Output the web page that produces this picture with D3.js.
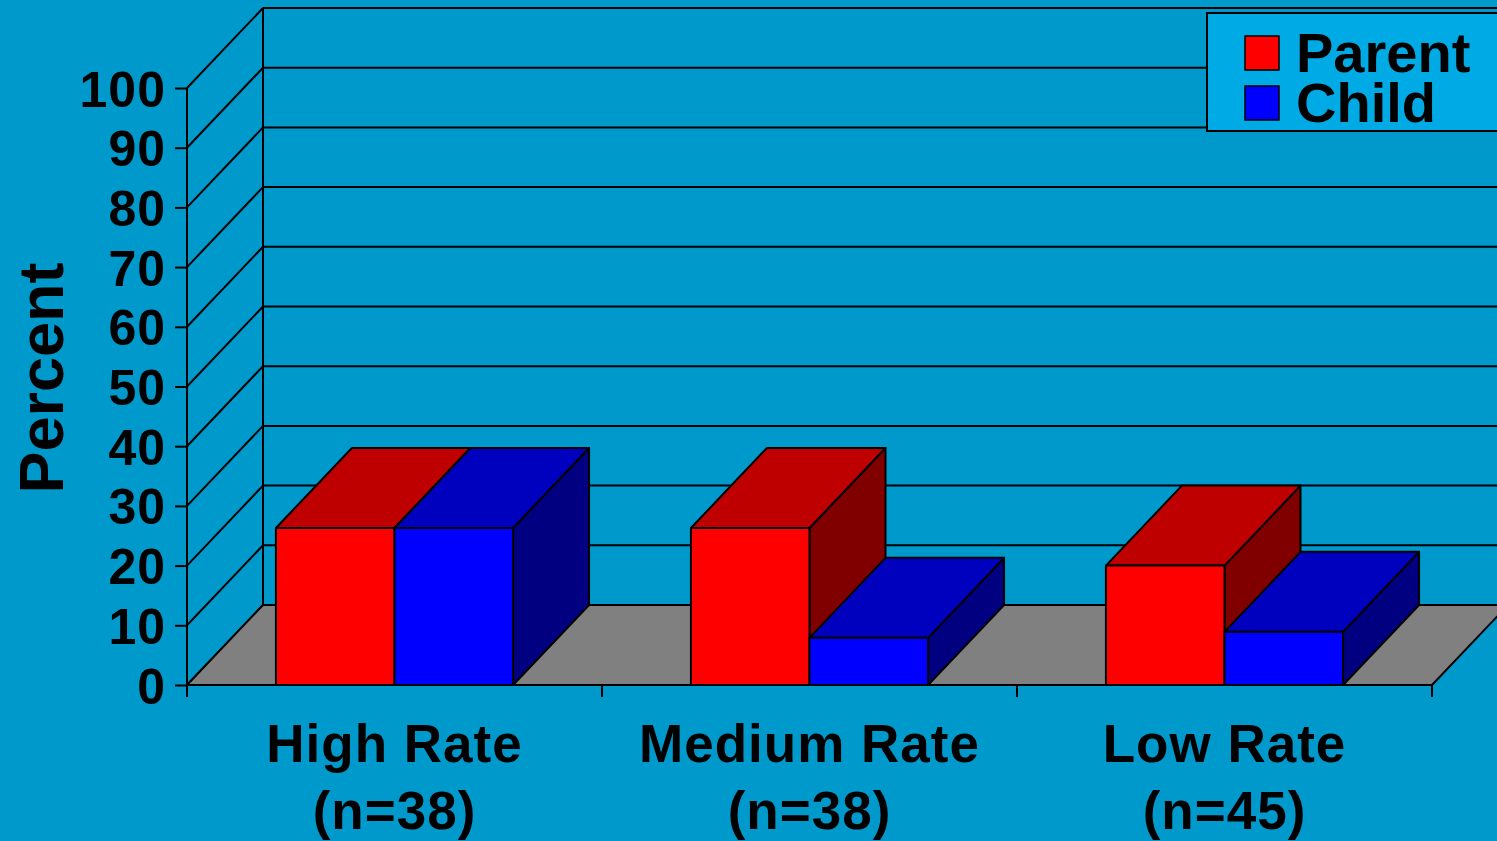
<!DOCTYPE html>
<html>
<head>
<meta charset="utf-8">
<script src="https://cdn.jsdelivr.net/npm/d3@7"></script>
<style>
  html, body { margin: 0; padding: 0; background: #0099cc; overflow: hidden; }
  svg { display: block; font-family: "Liberation Sans", Arial, sans-serif; font-weight: bold; }
</style>
</head>
<body>
<div id="chart"></div>
<script>
const categories = [['High Rate', '(n=38)'], ['Medium Rate', '(n=38)'], ['Low Rate', '(n=45)']];
const seriesNames = ['Parent', 'Child'];
const parentValues = [26.3, 26.3, 20];
const childValues = [26.3, 7.9, 8.9];
const yTicks = [0, 10, 20, 30, 40, 50, 60, 70, 80, 90, 100];

const W = 1497, H = 841;
const depth = { dx: 76, dy: -80 };

const colors = {
  Parent: { front: '#ff0000', top: '#bf0000', side: '#800000' },
  Child: { front: '#0000ff', top: '#0000bf', side: '#000080' }
};

const svg = d3.select('#chart').append('svg')
  .attr('width', W)
  .attr('height', H);

svg.append('rect').attr('width', W).attr('height', H).attr('fill', '#0099cc');

const y = d3.scaleLinear().domain([0, 100]).range([685, 88]);
const x = d3.scaleBand()
  .domain(categories.map(c => c[0]))
  .range([187, 1432])
  .paddingInner(0).paddingOuter(0);
const x1 = d3.scaleBand()
  .domain(seriesNames)
  .range([0, x.bandwidth()])
  .paddingInner(0).paddingOuter(0.75);

const x0 = x.range()[0], xEnd = x.range()[1];
const line = (g, pts) => g.append('path')
  .attr('d', d3.line()(pts))
  .attr('fill', 'none').attr('stroke', '#000').attr('stroke-width', 2);

// back wall gridlines and left wall diagonals
const walls = svg.append('g');
yTicks.forEach(v => {
  const yy = y(v);
  if (v > 0) line(walls, [[x0 + depth.dx, yy + depth.dy], [W + 5, yy + depth.dy]]);
  line(walls, [[x0, yy], [x0 + depth.dx, yy + depth.dy]]);
});
line(walls, [[x0 + depth.dx, y(100) + depth.dy], [x0 + depth.dx, y(0) + depth.dy]]);

// floor
svg.append('path')
  .attr('d', d3.line()([
    [x0, y(0)], [x0 + depth.dx, y(0) + depth.dy],
    [xEnd + depth.dx, y(0) + depth.dy], [xEnd, y(0)]
  ]) + 'Z')
  .attr('fill', '#808080').attr('stroke', '#000').attr('stroke-width', 2)
  .attr('stroke-linejoin', 'round');

// bars, parent then child so the child's top covers the parent's side
const rows = categories.map((c, i) => seriesNames.map(s => ({
  cat: c[0], series: s, value: s === 'Parent' ? parentValues[i] : childValues[i]
}))).flat();

const barG = svg.append('g')
  .selectAll('g')
  .data(rows)
  .join('g');

barG.each(function (d) {
  const g = d3.select(this);
  const bx = x(d.cat) + x1(d.series);
  const bw = x1.bandwidth();
  const top = y(d.value), base = y(0);
  const c = colors[d.series];
  const poly = (pts, fill) => g.append('path')
    .attr('d', d3.line()(pts) + 'Z')
    .attr('fill', fill).attr('stroke', '#000').attr('stroke-width', 2)
    .attr('stroke-linejoin', 'round');
  poly([[bx + bw, top], [bx + bw + depth.dx, top + depth.dy],
        [bx + bw + depth.dx, base + depth.dy], [bx + bw, base]], c.side);
  poly([[bx, top], [bx + depth.dx, top + depth.dy],
        [bx + bw + depth.dx, top + depth.dy], [bx + bw, top]], c.top);
  poly([[bx, top], [bx + bw, top], [bx + bw, base], [bx, base]], c.front);
});

// axes
const yAxis = svg.append('g')
  .attr('transform', `translate(${x0},0)`)
  .call(d3.axisLeft(y).tickValues(yTicks).tickSize(12).tickPadding(9).tickFormat(d3.format('d')));
yAxis.select('.domain').attr('stroke', '#000').attr('stroke-width', 2).attr('d', `M0,${y(100)}V${y(0)}`);
yAxis.selectAll('.tick line').attr('stroke', '#000').attr('stroke-width', 2);
yAxis.selectAll('.tick text')
  .attr('fill', '#000')
  .attr('font-size', 50)
  .attr('font-weight', 'bold')
  .attr('font-family', '"Liberation Sans", Arial, sans-serif')
  .attr('letter-spacing', 1)
  .attr('dy', '0.36em');

const xAxis = svg.append('g').attr('transform', `translate(0,${y(0)})`);
line(xAxis, [[x0, 0], [xEnd, 0]]);
[...categories.map(c => x(c[0])), xEnd].forEach(t => line(xAxis, [[t, 0], [t, 12]]));

const labels = svg.append('g')
  .selectAll('text')
  .data(categories)
  .join('text')
  .attr('x', d => x(d[0]) + x.bandwidth() / 2)
  .attr('y', 762)
  .attr('text-anchor', 'middle')
  .attr('font-size', 53)
  .attr('letter-spacing', 1)
  .attr('fill', '#000');
labels.append('tspan').text(d => d[0]);
labels.append('tspan')
  .attr('x', d => x(d[0]) + x.bandwidth() / 2)
  .attr('dy', 67)
  .text(d => d[1]);

// y title
svg.append('text')
  .attr('transform', 'translate(63,378) rotate(-90)')
  .attr('text-anchor', 'middle')
  .attr('font-size', 63)
  .attr('fill', '#000')
  .text('Percent');

// legend
const legend = svg.append('g');
legend.append('rect')
  .attr('x', 1207).attr('y', 13)
  .attr('width', 320).attr('height', 118)
  .attr('fill', '#00abe5').attr('stroke', '#000').attr('stroke-width', 2);
seriesNames.forEach((s, i) => {
  legend.append('rect')
    .attr('x', 1245).attr('y', 36 + i * 50)
    .attr('width', 34).attr('height', 34)
    .attr('fill', colors[s].front).attr('stroke', '#000').attr('stroke-width', 1.5);
  legend.append('text')
    .attr('x', 1296).attr('y', 72 + i * 50)
    .attr('font-size', 56)
    .attr('fill', '#000')
    .text(s);
});
</script>
</body>
</html>
